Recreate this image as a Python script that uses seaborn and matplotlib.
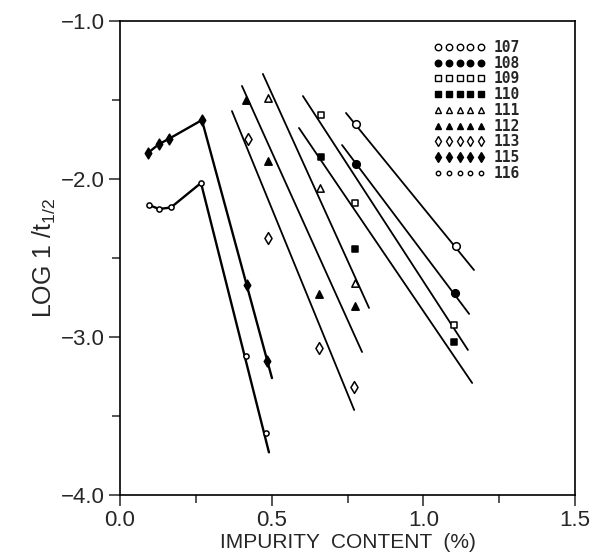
import matplotlib
matplotlib.use("Agg")
import matplotlib.pyplot as plt
from matplotlib.lines import Line2D
import seaborn as sns
import numpy as np

# ---------------- data ----------------
series_names = ["107", "108", "109", "110", "111", "112", "113", "115", "116"]

s107_x = [0.778, 1.108]
s107_y = [-1.652, -2.424]
fit107_x = [0.745, 1.167]
fit107_y = [-1.582, -2.576]

s108_x = [0.778, 1.105]
s108_y = [-1.905, -2.722]
fit108_x = [0.732, 1.151]
fit108_y = [-1.785, -2.854]

s109_x = [0.663, 0.775, 1.101]
s109_y = [-1.595, -2.152, -2.924]
fit109_x = [0.603, 1.147]
fit109_y = [-1.475, -3.082]

s110_x = [0.663, 0.775, 1.101]
s110_y = [-1.861, -2.443, -3.032]
fit110_x = [0.590, 1.161]
fit110_y = [-1.677, -3.291]

s111_x = [0.488, 0.659, 0.775]
s111_y = [-1.487, -2.057, -2.658]
fit111_x = [0.471, 0.821]
fit111_y = [-1.335, -2.816]

s112_x = [0.415, 0.488, 0.656, 0.775]
s112_y = [-1.500, -1.886, -2.728, -2.804]
fit112_x = [0.402, 0.798]
fit112_y = [-1.411, -3.095]

s113_x = [0.422, 0.488, 0.656, 0.772]
s113_y = [-1.747, -2.373, -3.070, -3.316]
fit113_x = [0.369, 0.772]
fit113_y = [-1.570, -3.462]

s115_x = [0.092, 0.128, 0.162, 0.270, 0.418, 0.484]
s115_y = [-1.835, -1.780, -1.745, -1.627, -2.670, -3.150]
fit115_x = [0.092, 0.128, 0.162, 0.270, 0.501]
fit115_y = [-1.835, -1.780, -1.745, -1.627, -3.260]

s116_x = [0.096, 0.129, 0.168, 0.267, 0.415, 0.481]
s116_y = [-2.165, -2.190, -2.180, -2.025, -3.120, -3.610]
fit116_x = [0.096, 0.129, 0.168, 0.267, 0.491]
fit116_y = [-2.165, -2.190, -2.180, -2.025, -3.730]

x_ticks = [0.0, 0.5, 1.0, 1.5]
x_tick_labels = ["0.0", "0.5", "1.0", "1.5"]
y_ticks = [-4.0, -3.0, -2.0, -1.0]
y_tick_labels = ["\u22124.0", "\u22123.0", "\u22122.0", "\u22121.0"]

# ---------------- styling ----------------
sns.set_style("ticks")
plt.rcParams["font.family"] = ["Liberation Sans", "DejaVu Sans"]
plt.rcParams["mathtext.fontset"] = "custom"
plt.rcParams["mathtext.rm"] = "Liberation Sans"

fig = plt.figure(figsize=(6.08, 5.58), dpi=100)
ax = fig.add_axes([120 / 608, 1 - 495 / 558, 455 / 608, 474 / 558])

# (points, fit line, marker, filled, size, line width)
series = [
    (s107_x, s107_y, fit107_x, fit107_y, "o", False, 30, 1.3),
    (s108_x, s108_y, fit108_x, fit108_y, "o", True, 30, 1.3),
    (s109_x, s109_y, fit109_x, fit109_y, "s", False, 24, 1.3),
    (s110_x, s110_y, fit110_x, fit110_y, "s", True, 24, 1.3),
    (s111_x, s111_y, fit111_x, fit111_y, "^", False, 28, 1.3),
    (s112_x, s112_y, fit112_x, fit112_y, "^", True, 28, 1.3),
    (s113_x, s113_y, fit113_x, fit113_y, "d", False, 36, 1.3),
    (s115_x, s115_y, fit115_x, fit115_y, "d", True, 30, 1.7),
    (s116_x, s116_y, fit116_x, fit116_y, "o", False, 14, 1.7),
]

for px, py, fx, fy, mk, filled, size, lw in series:
    sns.lineplot(x=fx, y=fy, ax=ax, color="black", lw=lw, sort=False,
                 estimator=None, legend=False, zorder=2)
    sns.scatterplot(x=px, y=py, ax=ax, marker=mk, s=size,
                    facecolor="black" if filled else "white",
                    edgecolor="black", linewidth=1.1, zorder=3, legend=False)

# legend
handles = []
for (px, py, fx, fy, mk, filled, size, lw) in series:
    handles.append(Line2D([], [], linestyle="none", marker=mk,
                          markersize=np.sqrt(size) * 0.85,
                          markerfacecolor="black" if filled else "white",
                          markeredgecolor="black", markeredgewidth=1.0))
leg = ax.legend(handles, series_names, numpoints=5, frameon=False,
                loc="upper left",
                bbox_to_anchor=((434 - 120) / 455, 1 - (40 - 21) / 474),
                borderpad=0, borderaxespad=0, handlelength=3.5,
                handletextpad=0.6, labelspacing=0.05,
                prop={"family": "DejaVu Sans Mono", "weight": "bold", "size": 10.5})

ax.set_xlim(0.0, 1.5)
ax.set_ylim(-4.0, -1.0)
ax.set_xticks(x_ticks)
ax.set_xticklabels(x_tick_labels)
ax.set_yticks(y_ticks)
ax.set_yticklabels(y_tick_labels)
ax.set_xticks(np.arange(0.25, 1.5, 0.5), minor=True)
ax.set_yticks(np.arange(-3.5, -1.0, 1.0), minor=True)
ax.tick_params(axis="both", which="major", direction="out", length=8, width=1.1,
               labelsize=16, pad=3)
ax.tick_params(axis="both", which="minor", direction="out", length=6, width=1.1)
for sp in ax.spines.values():
    sp.set_visible(True)
    sp.set_linewidth(1.2)
    sp.set_color("black")

ax.set_xlabel("IMPURITY  CONTENT  (%)", fontsize=15, labelpad=1)
ax.set_ylabel(r"LOG 1 /t$_{\mathregular{1/2}}$", fontsize=18, labelpad=2)

fig.savefig("out.png", dpi=100)
